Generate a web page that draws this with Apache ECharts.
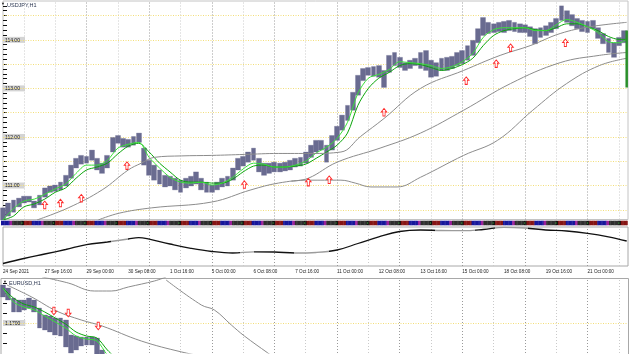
<!DOCTYPE html>
<html>
<head>
<meta charset="utf-8">
<title>USDJPY,H1</title>
<script src="https://cdn.jsdelivr.net/npm/echarts@6/dist/echarts.min.js"></script>
<style>
  html, body { margin: 0; padding: 0; background: #fff; }
  #chart { width: 630px; height: 354px; }
</style>
</head>
<body>
<div id="chart"></div>
<script>
// bar 0 = 24 Sep 2021 08:00, one bar per trading hour
var barCount = 479;
var timeLabels = ['24 Sep 2021', '27 Sep 16:00', '29 Sep 00:00', '30 Sep 08:00', '1 Oct 16:00',
  '5 Oct 00:00', '6 Oct 08:00', '7 Oct 16:00', '11 Oct 00:00', '12 Oct 08:00', '13 Oct 16:00',
  '15 Oct 00:00', '18 Oct 08:00', '19 Oct 16:00', '21 Oct 00:00'];
var dayStarts = [16, 40, 64, 88, 112, 136, 160, 184, 208, 232, 256, 280, 304, 328, 352, 376, 400, 424, 448, 472];
var darkDays = [64, 112, 160, 208, 256, 304, 352, 400, 448];
var usdLevels = [110.5, 111, 111.5, 112, 112.5, 113, 113.5, 114, 114.5];
var eurLevels = [1.17];

// USDJPY high / low, one entry every 4 bars
var usdHi = [110.54, 110.64, 110.70, 110.74, 110.78, 110.78, 110.68, 110.80, 110.95, 110.99,
  111.01, 111.07, 111.21, 111.42, 111.56, 111.62, 111.60, 111.73, 111.56, 111.46,
  111.62, 111.99, 112.03, 111.97, 111.95, 112.01, 112.08, 111.77, 111.52, 111.42,
  111.32, 111.21, 111.19, 111.15, 111.11, 111.15, 111.19, 111.28, 111.15, 111.07,
  111.01, 111.07, 111.15, 111.19, 111.36, 111.56, 111.60, 111.69, 111.77, 111.56,
  111.46, 111.46, 111.48, 111.46, 111.48, 111.52, 111.56, 111.58, 111.69, 111.83,
  111.93, 111.93, 111.83, 112.03, 112.22, 112.45, 112.65, 112.92, 113.27, 113.41,
  113.43, 113.45, 113.47, 113.37, 113.68, 113.74, 113.64, 113.53, 113.58, 113.62,
  113.74, 113.78, 113.58, 113.53, 113.62, 113.64, 113.66, 113.74, 113.78, 113.88,
  113.99, 114.23, 114.46, 114.36, 114.33, 114.36, 114.38, 114.40, 114.36, 114.33,
  114.31, 114.27, 114.23, 114.25, 114.29, 114.36, 114.44, 114.70, 114.60, 114.52,
  114.44, 114.40, 114.38, 114.40, 114.25, 114.13, 114.03, 113.94, 114.05, 114.19];
var usdLo = [110.29, 110.37, 110.45, 110.56, 110.64, 110.66, 110.54, 110.60, 110.76, 110.86,
  110.88, 110.91, 110.99, 111.15, 111.36, 111.44, 111.46, 111.52, 111.32, 111.25,
  111.36, 111.69, 111.87, 111.79, 111.79, 111.83, 111.89, 111.42, 111.21, 111.11,
  111.03, 110.97, 110.99, 110.91, 110.86, 110.95, 110.99, 111.03, 110.91, 110.86,
  110.86, 110.91, 110.97, 110.99, 111.11, 111.32, 111.40, 111.48, 111.52, 111.28,
  111.21, 111.25, 111.28, 111.28, 111.30, 111.32, 111.38, 111.40, 111.46, 111.58,
  111.69, 111.73, 111.48, 111.73, 111.93, 112.14, 112.34, 112.55, 112.86, 113.16,
  113.27, 113.25, 113.23, 113.02, 113.33, 113.47, 113.43, 113.37, 113.41, 113.47,
  113.41, 113.37, 113.23, 113.25, 113.37, 113.37, 113.41, 113.47, 113.51, 113.58,
  113.68, 113.94, 114.09, 114.13, 114.15, 114.17, 114.15, 114.19, 114.17, 114.15,
  114.15, 114.07, 113.92, 114.05, 114.09, 114.15, 114.23, 114.40, 114.36, 114.29,
  114.23, 114.17, 114.15, 114.23, 114.03, 113.92, 113.74, 113.64, 113.88, 113.94];

// green averages, one entry every 8 bars (last one = last bar)
var usdFast = [110.29, 110.52, 110.68, 110.72, 110.82, 110.93, 111.03, 111.25, 111.42, 111.42,
  111.52, 111.77, 111.85, 111.89, 111.58, 111.36, 111.17, 111.07, 111.05, 111.07,
  111.01, 111.05, 111.17, 111.34, 111.46, 111.44, 111.38, 111.38, 111.42, 111.50,
  111.67, 111.79, 111.97, 112.30, 112.90, 113.21, 113.29, 113.39, 113.55, 113.53,
  113.51, 113.47, 113.41, 113.45, 113.55, 113.72, 114.05, 114.21, 114.25, 114.25,
  114.25, 114.19, 114.19, 114.31, 114.42, 114.36, 114.27, 114.15, 113.96, 113.94, 114.01];
var usdSlow = [110.29, 110.37, 110.56, 110.62, 110.72, 110.86, 110.95, 111.15, 111.32, 111.38,
  111.46, 111.65, 111.81, 111.87, 111.69, 111.46, 111.28, 111.11, 111.07, 111.07,
  111.05, 111.05, 111.13, 111.28, 111.40, 111.42, 111.38, 111.38, 111.40, 111.44,
  111.56, 111.69, 111.83, 112.08, 112.65, 113.00, 113.21, 113.33, 113.47, 113.51,
  113.49, 113.43, 113.37, 113.41, 113.49, 113.62, 113.88, 114.09, 114.19, 114.23,
  114.25, 114.21, 114.19, 114.25, 114.33, 114.33, 114.27, 114.19, 114.07, 114.01, 114.01];

// grey long averages: [bar, price]
var usdGreyA = [[26, 110.29], [50, 110.54], [76, 110.91], [96, 111.32], [106, 111.46], [116, 111.58],
  [137, 111.61], [160, 111.62], [185, 111.64], [211, 111.66], [236, 111.66], [259, 111.69],
  [274, 112.01], [292, 112.38], [320, 113.00], [353, 113.37], [381, 113.68], [404, 113.88],
  [427, 114.13], [450, 114.27], [478, 114.36]];
var usdGreyB = [[73, 110.29], [89, 110.43], [114, 110.54], [160, 110.66], [190, 110.91], [211, 111.05],
  [234, 111.11], [259, 111.11], [270, 111.05], [282, 110.97], [302, 110.97], [320, 111.17],
  [353, 111.62], [379, 111.93], [406, 112.55], [432, 113.10], [457, 113.47], [478, 113.62]];
var usdGreyC = [[221, 111.09], [234, 111.15], [256, 111.48], [289, 111.77], [320, 112.08],
  [353, 112.55], [389, 113.10], [427, 113.53], [457, 113.68], [478, 113.74]];
var usdBuy = [[32, 110.60], [44, 110.64], [60, 110.74], [95, 111.41], [185, 111.02], [234, 111.07],
  [250, 111.12], [292, 112.51], [355, 113.16], [378, 113.51], [389, 113.84], [431, 113.94]];
var usdLastBar = [[478, 114.19], [478, 113.02]];

// lower indicator: [bar, value]
var indBars = [0, 16, 32, 48, 64, 80, 96, 104, 112, 128, 144, 160, 176, 192, 208, 224, 240, 256,
  272, 288, 304, 320, 336, 352, 368, 384, 400, 416, 432, 448, 464, 478];
var indVals = [2.5, 7.5, 12, 16.5, 21.3, 24, 27, 28.3, 26.8, 22, 17.7, 14.5, 13, 14.2, 14, 13, 13.5, 16,
  22.5, 29.2, 34.5, 36, 35.5, 35.3, 36.5, 38.7, 38, 36, 35, 32.7, 29.2, 25];

// EURUSD window
var eurHi = [1.1738, 1.1735, 1.1725, 1.1723, 1.1723, 1.1725, 1.1723, 1.1715, 1.1708, 1.1707, 1.1705,
  1.1705, 1.1703, 1.1688, 1.1687, 1.1686, 1.1686, 1.1686, 1.1685, 1.1673, 1.1663];
var eurLo = [1.1726, 1.1723, 1.1711, 1.1711, 1.1713, 1.1715, 1.1711, 1.1695, 1.1693, 1.1691, 1.1688,
  1.1687, 1.1676, 1.1670, 1.1673, 1.1677, 1.1678, 1.1678, 1.1669, 1.1658, 1.1648];
var eurFast = [1.1735, 1.1721, 1.1716, 1.1713, 1.1707, 1.1701, 1.1695, 1.1687, 1.1684, 1.1682, 1.1668, 1.1658];
var eurSlow = [1.1735, 1.1725, 1.1719, 1.1716, 1.1711, 1.1705, 1.1699, 1.1691, 1.1687, 1.1685, 1.1673, 1.1663];
var eurGreyA = [[3, 1.1738], [22, 1.1726], [41, 1.1712], [60, 1.1703], [76, 1.1697], [106, 1.1682],
  [137, 1.1671], [160, 1.1665]];
var eurGreyB = [[30, 1.1746], [50, 1.1740], [70, 1.1732], [83, 1.1732], [96, 1.1736], [116, 1.1742], [125, 1.1746]];
var eurGreyC = [[125, 1.1743], [152, 1.1718], [162, 1.1713], [175, 1.1698], [185, 1.1687], [203, 1.1670], [213, 1.1661]];
var eurSell = [[39, 1.1712], [50, 1.1710], [73, 1.1697]];

// session strip colours by hour of day
var sessionColors = ['#111', '#111', '#861414', '#861414', '#861414', '#861414', '#861414', '#861414',
  '#16169a', '#16169a', '#16169a', '#16169a', '#16169a', '#16169a', '#16169a', '#9a1f9a', '#9a1f9a',
  '#2e2e2e', '#2e2e2e', '#2e2e2e', '#2e2e2e', '#2e2e2e', '#2e2e2e', '#2e2e2e'];

var font = 'Liberation Sans, Arial, sans-serif';
var barColor = '#696b90';
var upArrow = 'path://M5,0L10,5L7,5L7,11L3,11L3,5L0,5Z';
var downArrow = 'path://M3,0L7,0L7,6L10,6L5,11L0,6L3,6Z';

function candles(hi, lo) {
  return hi.map(function (h, i) { return [i * 4, lo[i], h, lo[i], h]; });
}
function stepLine(vals) {
  return vals.map(function (v, i) { return [Math.min(i * 8, 478), v]; });
}
function gridLines(levels) {
  var out = dayStarts.map(function (b) {
    return { xAxis: b, lineStyle: { color: darkDays.indexOf(b) >= 0 ? '#9a9a9a' : '#cacaca', type: [1, 2], width: 1 } };
  });
  (levels || []).forEach(function (v) {
    out.push({ yAxis: v, lineStyle: { color: '#f3de7a', type: [1, 1.5], width: 1 } });
  });
  return { silent: true, symbol: ['none', 'none'], label: { show: false }, z: 1, animation: false, data: out };
}
function priceAxis(idx, min, max, interval, isLabel, digits) {
  return {
    gridIndex: idx, type: 'value', min: min, max: max, interval: interval, position: 'left',
    axisLine: { show: false },
    axisTick: { show: true, inside: true, length: 4, lineStyle: { color: '#111', width: 1 } },
    splitLine: { show: false },
    axisLabel: {
      inside: true, margin: 0, showMinLabel: false, showMaxLabel: false,
      formatter: function (v) { return isLabel(v) ? '{b|' + v.toFixed(digits) + '}' : ''; },
      rich: { b: { backgroundColor: '#d4d4d4', padding: [1, 5, 0, 2], fontSize: 5, color: '#111', fontFamily: font } }
    }
  };
}
function hiddenX(idx) {
  return { gridIndex: idx, type: 'value', min: 0, max: barCount, show: false, splitLine: { show: false } };
}
function bars(xi, yi, data, lines) {
  return {
    type: 'candlestick', xAxisIndex: xi, yAxisIndex: yi, data: data,
    encode: { x: 0, y: [1, 2, 3, 4] }, barWidth: 5.3,
    itemStyle: { color: barColor, color0: barColor, borderColor: barColor, borderColor0: barColor, borderWidth: 0.3 },
    markLine: lines
  };
}
function avg(xi, yi, data, color, smooth) {
  return { type: 'line', xAxisIndex: xi, yAxisIndex: yi, data: data, symbol: 'none', smooth: smooth,
    lineStyle: { color: color, width: 1 } };
}

function renderSession(params, api) {
  var i = api.value(0);
  var a = api.coord([i - 0.5, 1]);
  var b = api.coord([i + 0.5, 0]);
  var hour = (i + 8) % 24;
  var kids = [{ type: 'rect', shape: { x: a[0], y: a[1], width: b[0] - a[0] + 0.4, height: b[1] - a[1] },
    style: { fill: sessionColors[hour] } }];
  if (hour === 0) {
    kids.push({ type: 'text', style: { text: 'ooo', x: a[0], y: (a[1] + b[1]) / 2, fill: '#45c845',
      font: '4px sans-serif', verticalAlign: 'middle' } });
  }
  return { type: 'group', children: kids };
}

var stripData = [];
for (var i = 0; i < barCount; i++) stripData.push([i]);

var chart = echarts.init(document.getElementById('chart'));
chart.setOption({
  animation: false,
  backgroundColor: '#fff',
  grid: [
    { left: 1, top: 1, width: 627, height: 218.5, show: true, borderColor: '#c4c4c4', borderWidth: 1 },
    { left: 1, top: 220.5, width: 627, height: 5 },
    { left: 1, top: 227, width: 627, height: 39, show: true, borderColor: '#a8a8a8', borderWidth: 1 },
    { left: 1, top: 278, width: 627, height: 75 }
  ],
  xAxis: [
    hiddenX(0), hiddenX(1),
    {
      gridIndex: 2, type: 'value', min: 0, max: barCount, interval: 32,
      axisLine: { show: false }, axisTick: { show: false }, splitLine: { show: false },
      axisLabel: {
        margin: 3, align: 'left', fontSize: 4.6, color: '#222', fontFamily: font, showMaxLabel: false,
        formatter: function (v) { return timeLabels[v / 32] || ''; }
      }
    },
    hiddenX(3)
  ],
  yAxis: [
    priceAxis(0, 110.3, 114.8, 0.1, function (v) { return Math.abs(v - Math.round(v)) < 1e-6; }, 2),
    { gridIndex: 1, type: 'value', min: 0, max: 1, show: false },
    { gridIndex: 2, type: 'value', min: 0, max: 39, show: false, splitLine: { show: false } },
    priceAxis(3, 1.167, 1.1745, 0.001, function (v) { return Math.abs(v * 200 - Math.round(v * 200)) < 1e-6; }, 4)
  ],
  visualMap: [{
    show: false, seriesIndex: 9, dimension: 0,
    pieces: [
      { lt: 83, color: '#111' }, { gte: 83, lt: 96, color: '#9c9c9c' }, { gte: 96, lt: 182, color: '#111' },
      { gte: 182, lt: 192, color: '#9c9c9c' }, { gte: 192, lt: 223, color: '#111' },
      { gte: 223, lt: 250, color: '#9c9c9c' }, { gte: 250, lt: 331, color: '#111' },
      { gte: 331, lt: 362, color: '#9c9c9c' }, { gte: 362, lt: 377, color: '#111' },
      { gte: 377, lt: 402, color: '#9c9c9c' }, { gte: 402, color: '#111' }
    ]
  }],
  graphic: [
    { type: 'polyline', silent: true, shape: { points: [[1, 354], [1, 278.5], [628.5, 278.5], [628.5, 354]] },
      style: { stroke: '#a8a8a8', lineWidth: 1, fill: null } },
    { type: 'text', left: 1, top: 2, style: { text: '▼', fontSize: 4, fill: '#222' } },
    { type: 'text', left: 7, top: 2, style: { text: 'USDJPY,H1', fontSize: 5.5, fill: '#2a3550', fontFamily: font } },
    { type: 'text', left: 3, top: 280, style: { text: '▼', fontSize: 4, fill: '#222' } },
    { type: 'text', left: 9, top: 280, style: { text: 'EURUSD,H1', fontSize: 5.5, fill: '#2a3550', fontFamily: font } }
  ],
  series: [
    bars(0, 0, candles(usdHi, usdLo), gridLines(usdLevels)),
    avg(0, 0, stepLine(usdSlow), '#0aa50a', 0.3),
    avg(0, 0, stepLine(usdFast), '#39e039', 0.3),
    avg(0, 0, usdGreyA, '#8c8c8c', 0.4),
    avg(0, 0, usdGreyB, '#8c8c8c', 0.4),
    avg(0, 0, usdGreyC, '#8c8c8c', 0.4),
    { type: 'scatter', xAxisIndex: 0, yAxisIndex: 0, data: usdBuy, symbol: upArrow, symbolSize: [5.5, 7.5],
      itemStyle: { color: '#fff', borderColor: '#ff2b2b', borderWidth: 0.9, opacity: 1 }, z: 4 },
    { type: 'line', xAxisIndex: 0, yAxisIndex: 0, data: usdLastBar, symbol: 'none',
      lineStyle: { color: '#2a8f2a', width: 2.5 } },
    { type: 'custom', xAxisIndex: 1, yAxisIndex: 1, data: stripData, renderItem: renderSession, clip: true },
    {
      type: 'line', xAxisIndex: 2, yAxisIndex: 2, symbol: 'none', smooth: 0.4,
      data: indBars.map(function (b, i) { return [b, indVals[i]]; }),
      lineStyle: { width: 1.3 },
      markLine: gridLines()
    },
    bars(3, 3, candles(eurHi, eurLo), gridLines(eurLevels)),
    avg(3, 3, stepLine(eurSlow), '#0aa50a', 0.3),
    avg(3, 3, stepLine(eurFast), '#39e039', 0.3),
    avg(3, 3, eurGreyA, '#8c8c8c', 0.4),
    avg(3, 3, eurGreyB, '#8c8c8c', 0.4),
    avg(3, 3, eurGreyC, '#8c8c8c', 0.4),
    { type: 'scatter', xAxisIndex: 3, yAxisIndex: 3, data: eurSell, symbol: downArrow, symbolSize: [5.5, 7.5],
      itemStyle: { color: '#fff', borderColor: '#ff2b2b', borderWidth: 0.9, opacity: 1 }, z: 4 }
  ]
});
</script>
</body>
</html>
